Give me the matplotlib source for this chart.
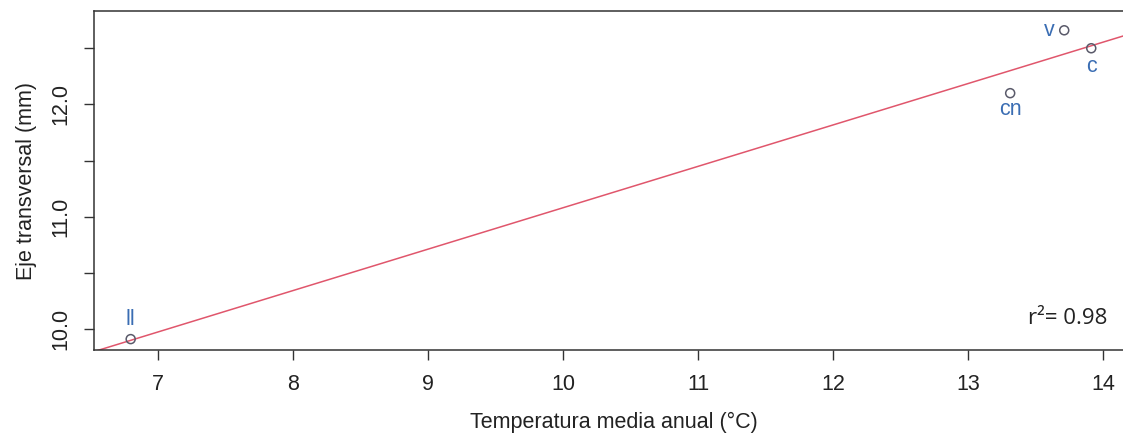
import matplotlib
matplotlib.use("Agg")
import matplotlib.pyplot as plt
import numpy as np

# data
sites = ["ll", "cn", "v", "c"]
temperatura = [6.80, 13.31, 13.71, 13.91]
eje = [9.91, 12.10, 12.66, 12.50]

x_ticks = [7, 8, 9, 10, 11, 12, 13, 14]
y_ticks = [10.0, 10.5, 11.0, 11.5, 12.0, 12.5]
y_labels = ["10.0", "", "11.0", "", "12.0", ""]
r2_text = "r\u00b2= 0.98"

# label offsets (points) for each site, like R's pos argument
offsets = {"ll": (0, 14), "cn": (0, -12), "v": (-11, 0), "c": (0, -13)}

plt.rcParams["font.family"] = ["Liberation Sans", "DejaVu Sans"]

fig = plt.figure(figsize=(11.23, 4.38), dpi=100)
ax = fig.add_axes([94 / 1123, 88 / 438, 1040 / 1123, 339 / 438])

px_per_x = 135.1
px_per_y = 112.3
ax.set_xlim(7 - 63.7 / px_per_x, 7 - 63.7 / px_per_x + 1040 / px_per_x)
ax.set_ylim(10 - 21 / px_per_y, 10 - 21 / px_per_y + 339 / px_per_y)

# regression line
slope, intercept = np.polyfit(temperatura, eje, 1)
xs = np.array(ax.get_xlim())
ax.plot(xs, slope * xs + intercept, color="#e0566c", lw=1.1, zorder=2)

ax.scatter(temperatura, eje, s=42, facecolors="none", edgecolors="#5a5a6a",
           linewidths=1.1, zorder=3)

for name, tx, ey in zip(sites, temperatura, eje):
    dx, dy = offsets[name]
    ax.annotate(name, (tx, ey), xytext=(dx, dy), textcoords="offset points",
                ha="center", va="center", color="#3a6db3", fontsize=15.5)

# r2 note, placed in figure pixels (origin bottom-left)
ax.text(1068 / 1123, (438 - 318) / 438, r2_text, transform=fig.transFigure,
        ha="center", va="center", fontsize=16,
        family=["Open Sans", "DejaVu Sans"], color="#222222")

ax.set_xticks(x_ticks)
ax.set_xticklabels([str(t) for t in x_ticks], fontsize=15.5)
ax.set_yticks(y_ticks)
ax.set_yticklabels(y_labels, fontsize=15.5, rotation=90, va="center")
ax.tick_params(direction="out", length=7.2, width=1, color="#333333",
               labelcolor="#222222")
ax.tick_params(axis="x", pad=10)
ax.tick_params(axis="y", pad=9)

for side in ax.spines.values():
    side.set_color("#333333")
    side.set_linewidth(1.1)

ax.set_xlabel("Temperatura media anual (\u00b0C)", fontsize=15.5,
              color="#222222", labelpad=12)
ax.set_ylabel("Eje transversal (mm)", fontsize=15.5, color="#222222",
              labelpad=10)

fig.savefig("out.png", dpi=100)
